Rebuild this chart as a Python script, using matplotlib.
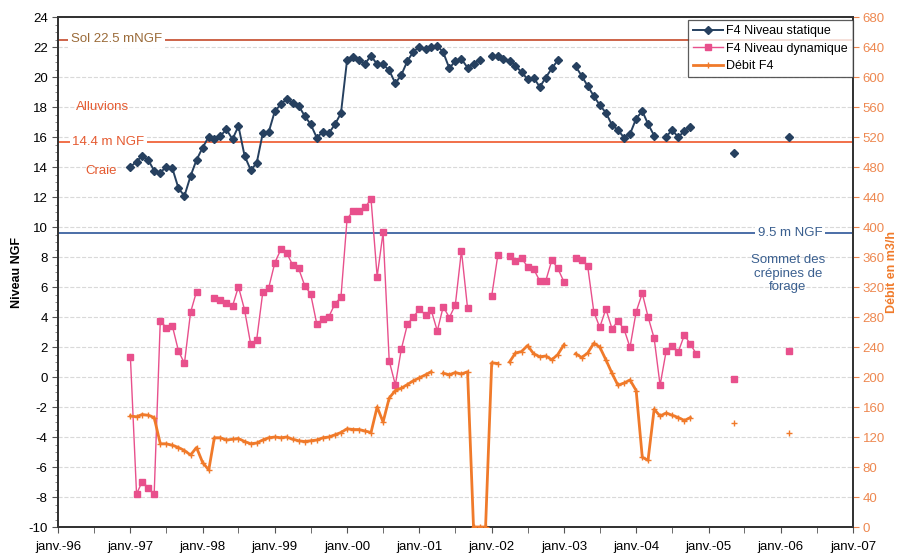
import numpy as np
import pandas as pd
import matplotlib
matplotlib.use("Agg")
import matplotlib.pyplot as plt
import matplotlib.dates as mdates
import matplotlib.transforms as mtransforms

plt.rcParams['font.family'] = ['Liberation Sans', 'DejaVu Sans']
plt.rcParams['axes.unicode_minus'] = False

# monthly data, Jan 1997 onwards (None = no measurement)
statique = [14.02, 14.35, 14.75, 14.47, 13.75, 13.62, 14.02, 13.91, 12.58, 12.07, 13.4, 14.47,
            15.29, 16.02, 15.87, 16.07, 16.51, 15.85, 16.73, 14.75, 13.8, 14.25, 16.25, 16.33,
            17.73, 18.18, 18.53, 18.29, 18.09, 17.4, 16.85, 15.95, 16.35, 16.25, 16.85, 17.58,
            21.13, 21.33, 21.11, 20.89, 21.42, 20.84, 20.84, 20.44, 19.58, 20.13, 21.07, 21.69,
            22.0, 21.87, 22.02, 22.09, 21.64, 20.58, 21.07, 21.2, 20.62, 20.84, 21.16, None,
            21.42, 21.38, 21.2, 21.07, 20.76, 20.31, 19.87, 19.96, 19.33, 19.96, 20.58, 21.11,
            None, None, 20.71, 20.07, 19.4, 18.73, 18.13, 17.62, 16.8, 16.47, 15.95, 16.2,
            17.22, 17.73, 16.87, 16.09, None, 16.02, 16.47, 15.98, 16.42, 16.69]

dynamique = [1.31, -7.8, -6.98, -7.38, -7.82, 3.75, 3.29, 3.4, 1.73, 0.91, 4.31, 5.69,
             None, None, 5.25, 5.13, 4.95, 4.73, 6.02, 4.47, 2.18, 2.47, 5.65, 5.95,
             7.62, 8.53, 8.29, 7.47, 7.24, 6.09, 5.53, 3.53, 3.85, 4.02, 4.89, 5.31,
             10.53, 11.09, 11.09, 11.31, 11.87, 6.69, 9.64, 1.07, -0.53, 1.85, 3.51, 4.02,
             4.51, 4.13, 4.47, 3.07, 4.69, 3.96, 4.8, 8.42, 4.58, None, None, None,
             5.4, 8.13, None, 8.09, 7.73, 7.91, 7.36, 7.2, 6.4, 6.4, 7.8, 7.24,
             6.35, None, 7.91, 7.8, 7.4, 4.35, 3.31, 4.53, 3.22, 3.73, 3.18, 1.98,
             4.35, 5.58, 4.02, 2.58, -0.55, 1.75, 2.09, 1.69, 2.8, 2.18, 1.53]

debit = [148, 147, 150, 149, 146, 111, 111, 109, 106, 102, 96, 106,
         86, 76, 119, 119, 116, 117, 118, 114, 111, 112, 116, 119,
         120, 119, 120, 117, 115, 114, 115, 116, 119, 120, 123, 126,
         131, 130, 130, 128, 126, 160, 140, 172, 182, 185, 190, 195,
         199, 203, 207, None, 205, 203, 206, 204, 207, 0, 0, 0,
         219, 218, None, 220, 232, 234, 242, 231, 227, 228, 223, 230,
         243, None, 231, 226, 232, 245, 240, 223, 205, 189, 192, 196,
         182, 93, 89, 157, 148, 152, 149, 146, 142, 146]

# later isolated measurements
dates_iso = ['2005-05-10', '2006-02-10']
statique_iso = [14.91, 15.98]
dynamique_iso = [-0.13, 1.75]
debit_iso = [139, 125]

niv_sol = 22.5
niv_craie = 15.65
niv_crepines = 9.58


def serie(vals, vals_iso):
    d = list(pd.date_range('1997-01-01', periods=len(vals), freq='MS'))
    v = [np.nan if x is None else x for x in vals]
    for di, vi in zip(dates_iso, vals_iso):
        d += [pd.Timestamp(di) - pd.Timedelta(days=20), pd.Timestamp(di)]
        v += [np.nan, vi]
    return d, np.array(v, dtype=float)


c_stat = '#26405f'
c_dyn = '#e8508c'
c_deb = '#f07a2a'
c_orange_txt = '#ee8850'

fig = plt.figure(figsize=(9.02, 5.56), dpi=100)
ax = fig.add_axes([58 / 902, 29 / 556, 795 / 902, 510 / 556])
ax2 = ax.twinx()

ax.set_ylim(-10, 24)
ax.set_yticks(np.arange(-10, 25, 2))
ax.yaxis.set_minor_locator(plt.MultipleLocator(0.5))
ax.grid(axis='y', color='#d9d9d9', linestyle='--', linewidth=0.8)
ax.set_axisbelow(True)

ax.set_xlim(pd.Timestamp('1996-01-01'), pd.Timestamp('2007-01-01'))
ax.xaxis.set_major_locator(mdates.YearLocator())
ax.xaxis.set_minor_locator(mdates.MonthLocator(bymonth=7))
ax.xaxis.set_major_formatter(mdates.DateFormatter("janv.-%y"))

ax.axhline(niv_sol, color='#c9573a', linewidth=1.3, zorder=1)
ax.axhline(niv_craie, color='#f0643c', linewidth=1.3, zorder=1)
ax.axhline(niv_crepines, color='#3d62a0', linewidth=1.3, zorder=1)

tr = mtransforms.blended_transform_factory(ax.transAxes, ax.transData)
box = dict(facecolor='white', edgecolor='none', pad=2)
ax.text(0.016, niv_sol, 'Sol 22.5 mNGF', transform=tr, color='#9a6a38', fontsize=9.5,
        va='center', ha='left', bbox=box, zorder=2)
ax.text(0.022, 18.0, 'Alluvions', transform=tr, color='#e55a30', fontsize=9.5,
        va='center', ha='left')
ax.text(0.018, niv_craie, '14.4 m NGF', transform=tr, color='#e55a30', fontsize=9.5,
        va='center', ha='left', bbox=box, zorder=2)
ax.text(0.034, 13.75, 'Craie', transform=tr, color='#e55a30', fontsize=9.5,
        va='center', ha='left')
ax.text(0.921, niv_crepines, '9.5 m NGF', transform=tr, color='#3a5f8f', fontsize=9.5,
        va='center', ha='center', bbox=box, zorder=2)
ax.text(0.918, 6.9, 'Sommet des\ncrépines de\nforage', transform=tr, color='#3a5f8f',
        fontsize=9.5, va='center', ha='center', linespacing=1.15)

d, v = serie(dynamique, dynamique_iso)
l_dyn, = ax.plot(d, v, color=c_dyn, linewidth=1.0, marker='s', markersize=5,
                 markerfacecolor=c_dyn, markeredgecolor=c_dyn, zorder=4,
                 label='F4 Niveau dynamique')
d, v = serie(statique, statique_iso)
l_stat, = ax.plot(d, v, color=c_stat, linewidth=1.4, marker='D', markersize=4.5,
                  markerfacecolor=c_stat, markeredgecolor=c_stat, zorder=5,
                  label='F4 Niveau statique')

ax2.set_ylim(0, 680)
ax2.set_yticks(np.arange(0, 681, 40))
d, v = serie(debit, debit_iso)
l_deb, = ax2.plot(d, v, color=c_deb, linewidth=2.0, marker='+', markersize=5,
                  markeredgewidth=1.0, label='Débit F4', zorder=3)

ax.set_ylabel('Niveau NGF', fontsize=9, fontweight='bold', labelpad=4)
ax2.set_ylabel('Débit en m3/h', fontsize=9, fontweight='bold', color=c_deb, labelpad=1)

ax.tick_params(axis='y', which='major', labelsize=9.5, length=4, color='#555555')
ax.tick_params(axis='y', which='minor', length=2, color='#777777')
ax.tick_params(axis='x', which='both', labelsize=9.5, length=4, color='#555555', pad=6)
for lab in ax.get_xticklabels():
    lab.set_fontfamily(['Liberation Sans Narrow', 'Liberation Sans', 'DejaVu Sans'])
ax2.tick_params(axis='y', labelsize=9.5, labelcolor=c_orange_txt, color=c_orange_txt,
                length=4, pad=3)

for a in (ax, ax2):
    for s in a.spines.values():
        s.set_color('#333333')
        s.set_linewidth(1.3)

leg = ax2.legend(handles=[l_stat, l_dyn, l_deb], loc='upper right',
                 bbox_to_anchor=(1.0, 0.994), borderaxespad=0, fontsize=9,
                 frameon=True, fancybox=False, edgecolor='#333333',
                 handlelength=2.4, handletextpad=0.3, borderpad=0.4, labelspacing=0.45)
leg.get_frame().set_linewidth(0.9)

fig.savefig('out.png', dpi=100)
